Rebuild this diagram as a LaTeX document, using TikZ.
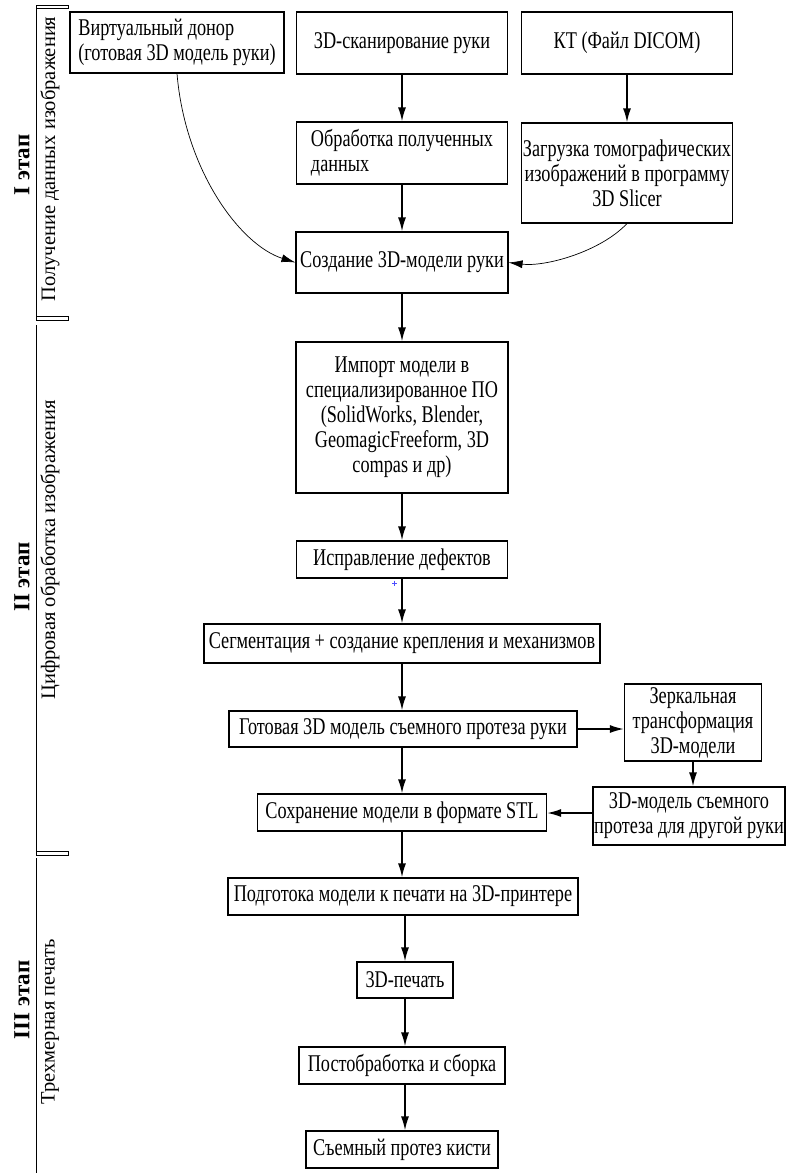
\documentclass[tikz,border=0pt]{standalone}
\usepackage{fontspec}
\setmainfont{Liberation Serif}[FakeStretch=0.76]
\newfontfamily\sidefont{Liberation Serif}
\usetikzlibrary{arrows.meta}
\newcommand\mybox[7][]{\node[box,#1,minimum width=#5pt,minimum height=#6pt] (#2) at (#3,#4) {#7};}
\begin{document}
\begin{tikzpicture}[x=1pt,y=-1pt,
  box/.style={draw, line width=1.1pt, inner sep=0pt, align=center, font=\fontsize{24}{25}\selectfont},
  arr/.style={line width=1.7pt, -{Latex[length=14pt,width=8pt]}},
  carr/.style={line width=0.7pt, -{Latex[length=14pt,width=8pt]}},
  brk/.style={line width=1pt},
  side/.style={rotate=90, inner sep=0pt, font=\sidefont\fontsize{20.5}{25}\selectfont},
  stage/.style={rotate=90, inner sep=0pt, font=\sidefont\fontsize{23}{25}\selectfont\bfseries}]
\useasboundingbox (0,0) rectangle (787,1173);

% brackets
\draw[brk] (36,5) -- (36,320);
\draw[brk] (36,5) rectangle (68,8);
\draw[brk] (36,316) rectangle (68,320);
\draw[brk] (36,325) -- (36,855);
\draw[brk] (36,851) rectangle (68,855);
\draw[brk] (36,858) -- (36,1173);

% side labels
\node[stage] (s1) at (22,165) {I этап};
\node[side] (l1) at (50,159) {Получение данных изображения};
\node[stage] (s2) at (22,577) {II этап};
\node[side] (l2) at (50,550) {Цифровая обработка изображения};
\node[stage] (s3) at (22,1000) {III этап};
\node[side] (l3) at (50,1022) {Трехмерная печать};

% boxes
\mybox[align=left]{vd}{177}{42.5}{214}{61}{Виртуальный донор\\(готовая 3D модель руки)}
\mybox{scan}{402}{43}{211}{62}{3D-сканирование руки}
\mybox{kt}{627}{43}{211}{62}{КТ (Файл DICOM)}
\mybox[align=left]{obr}{402}{153}{211}{62}{Обработка полученных\\данных}
\mybox{zagr}{627}{173}{211}{100}{Загрузка томографических\\изображений в программу\\3D Slicer}
\mybox{sozd}{402}{262.5}{212}{61}{Создание 3D-модели руки}
\mybox{imp}{402}{417.5}{212}{151}{Импорт модели в\\специализированное ПО\\(SolidWorks, Blender,\\GeomagicFreeform, 3D\\compas и др)}
\mybox{ispr}{402}{559.5}{211}{37}{Исправление дефектов}
\mybox{seg}{402}{643.5}{396}{39}{Сегментация + создание крепления и механизмов}
\mybox{gotov}{403}{729}{348}{36}{Готовая 3D модель съемного протеза руки}
\mybox{zerk}{693}{722.5}{137}{77}{Зеркальная\\трансформация\\3D-модели}
\mybox{drug}{689}{816}{192}{58}{3D-модель съемного\\протеза для другой руки}
\mybox{sohr}{402}{812.5}{289}{37}{Сохранение модели в формате STL}
\mybox{podg}{403}{896.5}{350}{37}{Подготока модели к печати на 3D-принтере}
\mybox{pech}{405}{980}{96}{36}{3D-печать}
\mybox{post}{402}{1065.5}{206}{37}{Постобработка и сборка}
\mybox{sjem}{402}{1149.5}{192}{37}{Съемный протез кисти}

% arrows
\draw[arr] (scan.south) -- (scan.south |- obr.north);
\draw[arr] (kt.south) -- (kt.south |- zagr.north);
\draw[arr] (obr.south) -- (obr.south |- sozd.north);
\draw[carr] (vd.south) .. controls (185,170) and (240,245) .. (sozd.west);
\draw[carr] (zagr.south) .. controls (600,252) and (545,267) .. (sozd.east);
\draw[arr] (sozd.south) -- (sozd.south |- imp.north);
\draw[arr] (imp.south) -- (imp.south |- ispr.north);
\draw[arr] (ispr.south) -- (ispr.south |- seg.north);
\draw[arr] (seg.south) -- (seg.south |- gotov.north);
\draw[arr] (gotov.south -| sohr.north) -- (sohr.north);
\draw[arr] (gotov.east) -- (gotov.east -| zerk.west);
\draw[arr] (zerk.south) -- (zerk.south |- drug.north);
\draw[arr] ([yshift=3pt]drug.west) -- ([yshift=3pt]drug.west -| sohr.east);
\draw[arr] (sohr.south) -- (sohr.south |- podg.north);
\draw[arr] (podg.south -| pech.north) -- (pech.north);
\draw[arr] (pech.south) -- (pech.south |- post.north);
\draw[arr] ([xshift=3pt]post.south) -- ([xshift=3pt]post.south |- sjem.north);

% small blue mark
\draw[blue!70, line width=0.5pt] (392,583) -- (397,583) (394.5,580.5) -- (394.5,585.5);
\end{tikzpicture}
\end{document}
